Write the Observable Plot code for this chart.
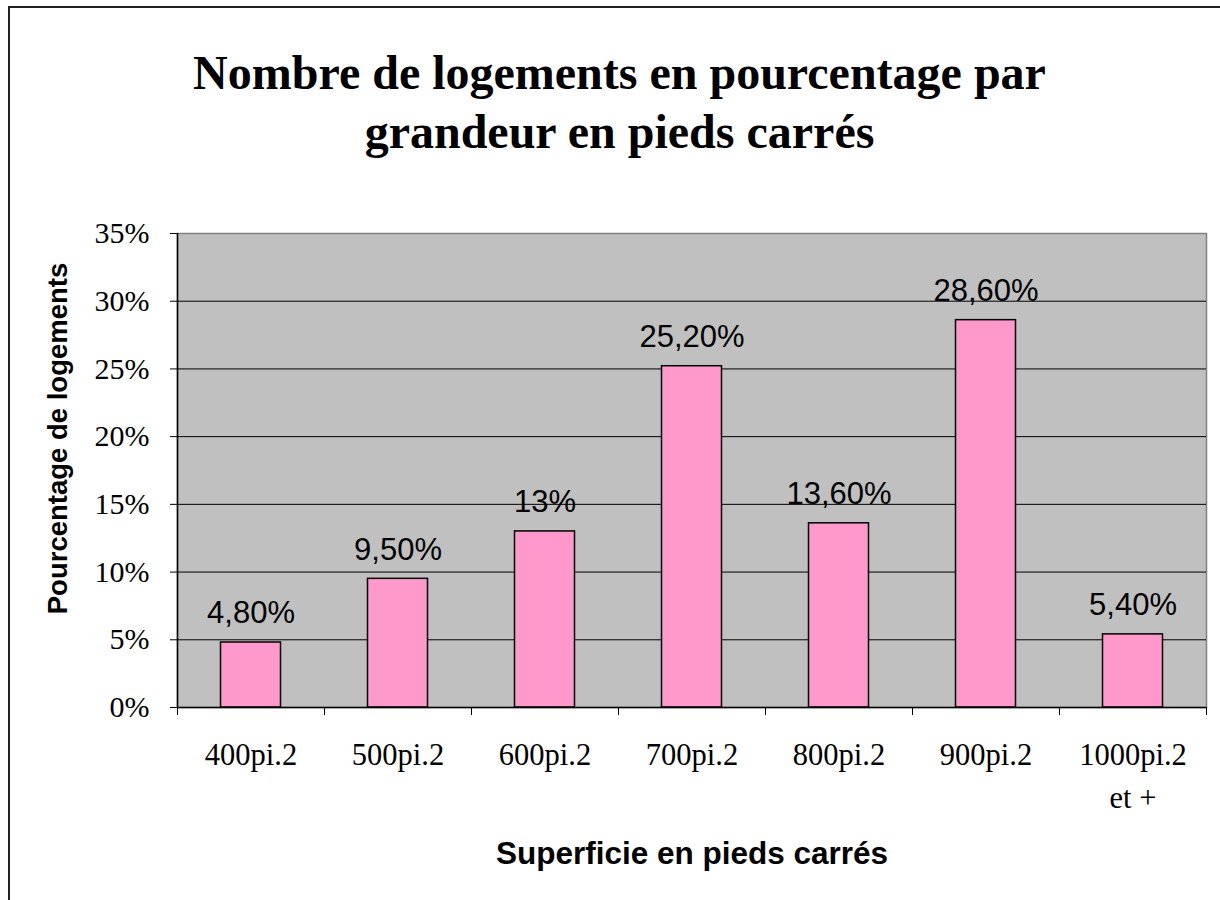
<!DOCTYPE html>
<html>
<head>
<meta charset="utf-8">
<script src="https://cdn.jsdelivr.net/npm/d3@7"></script>
<script src="https://cdn.jsdelivr.net/npm/@observablehq/plot@0.6"></script>
<style>
  html, body { margin: 0; padding: 0; background: #fff; overflow: hidden; }
  #page { position: relative; width: 1220px; height: 900px; }
  #border { position: absolute; left: 8px; top: 6px; width: 1300px; height: 1000px; border: 2px solid #222; box-sizing: border-box; }
  #title { position: absolute; left: 0; top: 43px; width: 1239px; text-align: center;
           font-family: "Liberation Serif", "Times New Roman", serif; font-weight: bold; font-size: 48px; line-height: 59px; color: #000; }
  #chart { position: absolute; left: 0; top: 200px; }
</style>
</head>
<body>
<div id="page">
  <div id="border"></div>
  <div id="title">Nombre de logements en pourcentage par<br>grandeur en pieds carrés</div>
  <div id="chart"></div>
</div>
<script>
const categories = ["400pi.2", "500pi.2", "600pi.2", "700pi.2", "800pi.2", "900pi.2", "1000pi.2\net +"];
const values = [4.8, 9.5, 13, 25.2, 13.6, 28.6, 5.4];
const valueLabels = ["4,80%", "9,50%", "13%", "25,20%", "13,60%", "28,60%", "5,40%"];
const yTicks = [0, 5, 10, 15, 20, 25, 30, 35];
const yTitle = "Pourcentage de logements";
const xTitle = "Superficie en pieds carrés";

const data = categories.map((c, i) => ({cat: c, value: values[i], label: valueLabels[i]}));

const W = 1220, H = 700, ML = 177, MR = 14, MT = 33, MB = 193;
const half = (W - ML - MR) / categories.length / 2;
const barInset = half - 30;

const serif = "Liberation Serif, Times New Roman, serif";
const sans = "Liberation Sans, Arial, sans-serif";

const chart = Plot.plot({
  width: W, height: H,
  marginLeft: ML, marginRight: MR, marginTop: MT, marginBottom: MB,
  style: {background: "transparent", color: "#000", overflow: "visible"},
  x: {type: "band", domain: categories, padding: 0},
  y: {domain: [0, 35]},
  marks: [
    Plot.frame({fill: "#c0c0c0", stroke: "#808080", strokeWidth: 1.5}),
    Plot.ruleY(yTicks.filter(d => d > 0 && d < 35), {stroke: "#000", strokeWidth: 1}),
    Plot.barY(data, {x: "cat", y: "value", fill: "#ff99cc", stroke: "#000", strokeWidth: 1.5, insetLeft: barInset, insetRight: barInset}),
    Plot.ruleY([0], {stroke: "#000", strokeWidth: 1.5}),
    Plot.ruleX([categories[0]], {y1: 0, y2: 35, dx: -half, stroke: "#000", strokeWidth: 1.5}),
    Plot.ruleX(categories, {y1: 0, y2: 0, insetBottom: -8, dx: -half, stroke: "#000", strokeWidth: 1}),
    Plot.ruleX([categories[categories.length - 1]], {y1: 0, y2: 0, insetBottom: -8, dx: half, stroke: "#000", strokeWidth: 1}),
    Plot.text(data, {x: "cat", y: "value", text: "label", dy: -29, lineAnchor: "middle", fontSize: 31, fontFamily: sans, fill: "#000"}),
    Plot.axisY({ticks: yTicks, tickFormat: d => d + "%", tickSize: 7, tickPadding: 21, fontSize: 30, fontFamily: serif, label: null, stroke: "#000"}),
    Plot.axisX({tickSize: 0, tickPadding: 27, fontSize: 30.5, fontFamily: serif, lineHeight: 1.4, label: null}),
    Plot.text([yTitle], {frameAnchor: "left", textAnchor: "middle", dx: -119, dy: -32, rotate: -90, text: d => d, fontSize: 27.5, fontWeight: "bold", fontFamily: sans, fill: "#000"}),
    Plot.text([xTitle], {frameAnchor: "bottom", textAnchor: "middle", dy: 156, text: d => d, fontSize: 31.5, fontWeight: "bold", fontFamily: sans, fill: "#000"})
  ]
});
document.getElementById("chart").appendChild(chart);
</script>
</body>
</html>
